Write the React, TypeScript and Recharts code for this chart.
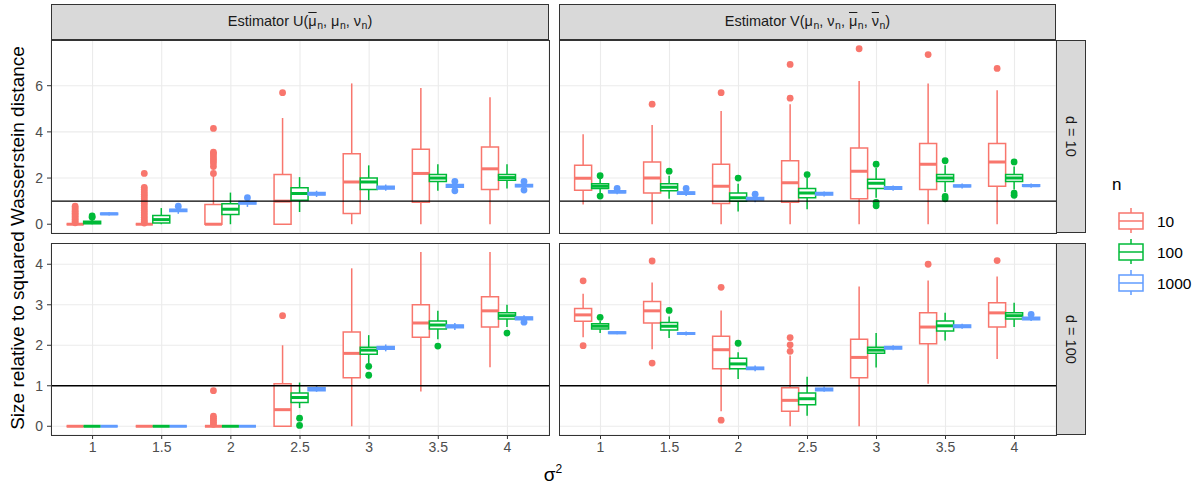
import React from "react";
import { BarChart, Bar, XAxis, YAxis, CartesianGrid, ReferenceLine } from "recharts";

const sigma2 = ["1", "1.5", "2", "2.5", "3", "3.5", "4"];
const nLevels = ["10", "100", "1000"];
const colors = ["#F8766D", "#00BA38", "#619CFF"];

// each entry: [lower whisker, q1, median, q3, upper whisker]
// Estimator U, d = 10
const uD10N10 = [[0, 0, 0, 0, 0], [0, 0, 0, 0, 0], [0, 0, 0, 0.85, 2.1], [0, 0, 1.0, 2.15, 4.6], [0, 0.46, 1.83, 3.05, 6.1], [0, 0.95, 2.2, 3.25, 5.9], [0, 1.5, 2.4, 3.35, 5.5]];
const uD10N100 = [[0, 0.02, 0.07, 0.13, 0.25], [0, 0.05, 0.2, 0.38, 0.7], [0, 0.42, 0.65, 0.89, 1.37], [0.53, 1.04, 1.33, 1.58, 2.04], [1.04, 1.5, 1.83, 2.0, 2.55], [1.45, 1.85, 2.0, 2.15, 2.6], [1.55, 1.9, 2.02, 2.15, 2.6]];
const uD10N1000 = [[0.38, 0.42, 0.45, 0.48, 0.52], [0.45, 0.55, 0.6, 0.65, 0.72], [0.75, 0.88, 0.93, 0.98, 1.08], [1.18, 1.27, 1.32, 1.37, 1.45], [1.45, 1.53, 1.58, 1.64, 1.72], [1.5, 1.6, 1.66, 1.72, 1.8], [1.52, 1.62, 1.67, 1.72, 1.8]];
const uD10N10Out = [[0.06, 0.13, 0.2, 0.27, 0.34, 0.41, 0.48, 0.55, 0.62, 0.7, 0.78], [0.05, 0.12, 0.2, 0.3, 0.4, 0.5, 0.6, 0.7, 0.8, 0.9, 1.0, 1.1, 1.2, 1.3, 1.4, 1.5, 1.6, 2.2], [2.2, 2.5, 2.65, 2.75, 2.85, 2.95, 3.05, 3.12, 4.15], [5.7], [], [], []];
const uD10N100Out = [[0.3, 0.36], [], [], [], [], [], []];
const uD10N1000Out = [[], [0.78], [1.15], [], [], [1.85, 1.45], [1.85, 1.48]];

// Estimator V, d = 10
const vD10N10 = [[0.85, 1.47, 1.99, 2.55, 3.9], [0, 1.35, 2.0, 2.7, 4.3], [0, 0.9, 1.65, 2.6, 4.9], [0, 0.95, 1.8, 2.75, 5.2], [0, 1.1, 2.3, 3.3, 6.2], [0, 1.5, 2.6, 3.5, 6.1], [0, 1.65, 2.7, 3.5, 5.8]];
const vD10N100 = [[1.3, 1.55, 1.65, 1.75, 2.0], [1.1, 1.45, 1.6, 1.75, 2.1], [0.55, 1.0, 1.15, 1.35, 1.75], [0.65, 1.15, 1.35, 1.55, 2.0], [1.15, 1.55, 1.78, 1.95, 2.45], [1.4, 1.85, 2.0, 2.15, 2.55], [1.5, 1.85, 2.0, 2.15, 2.5]];
const vD10N1000 = [[1.3, 1.36, 1.4, 1.45, 1.5], [1.22, 1.3, 1.35, 1.4, 1.48], [0.95, 1.05, 1.1, 1.16, 1.25], [1.2, 1.27, 1.32, 1.37, 1.42], [1.45, 1.52, 1.57, 1.62, 1.68], [1.55, 1.62, 1.66, 1.7, 1.76], [1.58, 1.64, 1.67, 1.71, 1.76]];
const vD10N10Out = [[], [5.2], [5.7], [5.46, 6.92], [7.6], [7.35], [6.75]];
const vD10N100Out = [[2.1, 1.22], [2.3], [2.0], [2.15], [2.6, 0.95, 0.8], [2.75, 1.2, 1.1], [2.7, 1.35, 1.25]];
const vD10N1000Out = [[1.55], [1.55], [1.3], [], [], [], []];

// Estimator U, d = 100
const uD100N10 = [[0, 0, 0, 0, 0], [0, 0, 0, 0, 0], [0, 0, 0, 0, 0], [0, 0, 0.41, 1.05, 2.0], [0, 1.2, 1.8, 2.33, 3.9], [0.86, 2.2, 2.55, 3.0, 4.3], [1.46, 2.45, 2.85, 3.2, 4.3]];
const uD100N100 = [[0, 0, 0, 0, 0], [0, 0, 0, 0, 0], [0, 0, 0, 0, 0], [0.45, 0.59, 0.71, 0.82, 1.08], [1.55, 1.78, 1.88, 1.95, 2.25], [2.15, 2.4, 2.5, 2.6, 2.85], [2.45, 2.65, 2.73, 2.8, 3.0]];
const uD100N1000 = [[0, 0, 0, 0, 0], [0, 0, 0, 0, 0], [0, 0, 0, 0, 0], [0.85, 0.88, 0.92, 0.95, 1.0], [1.85, 1.9, 1.93, 1.97, 2.02], [2.38, 2.43, 2.47, 2.5, 2.55], [2.6, 2.63, 2.67, 2.7, 2.74]];
const uD100N10Out = [[], [], [0.05, 0.1, 0.15, 0.2, 0.25, 0.88], [2.73], [], [], []];
const uD100N100Out = [[], [], [], [0.2, 0.02], [1.48, 1.26], [1.98], [2.3]];
const uD100N1000Out = [[], [], [], [], [], [], [2.57]];

// Estimator V, d = 100
const vD100N10 = [[2.2, 2.59, 2.75, 2.91, 3.27], [1.9, 2.55, 2.85, 3.08, 3.55], [0.37, 1.42, 1.89, 2.22, 2.86], [0, 0.37, 0.64, 0.95, 1.75], [0, 1.2, 1.7, 2.15, 3.45], [1.05, 2.04, 2.45, 2.8, 3.6], [1.66, 2.45, 2.8, 3.05, 3.7]];
const vD100N100 = [[2.3, 2.4, 2.47, 2.53, 2.6], [2.18, 2.38, 2.47, 2.56, 2.71], [1.17, 1.42, 1.54, 1.68, 1.83], [0.26, 0.53, 0.68, 0.82, 1.22], [1.45, 1.8, 1.88, 1.95, 2.3], [2.12, 2.35, 2.48, 2.6, 2.8], [2.45, 2.65, 2.73, 2.8, 3.05]];
const vD100N1000 = [[2.27, 2.29, 2.31, 2.33, 2.35], [2.24, 2.27, 2.29, 2.31, 2.34], [1.36, 1.4, 1.43, 1.46, 1.5], [0.85, 0.88, 0.91, 0.94, 0.98], [1.88, 1.91, 1.94, 1.97, 2.0], [2.41, 2.44, 2.47, 2.5, 2.53], [2.6, 2.63, 2.66, 2.69, 2.72]];
const vD100N10Out = [[3.59, 1.99], [4.08, 1.56], [3.43, 0.15], [1.85, 2.01, 2.19], [], [4.0], [4.09]];
const vD100N100Out = [[2.69], [2.86], [2.05], [], [], [], []];
const vD100N1000Out = [[], [], [], [], [], [], [2.76]];

const domainD10: [number, number] = [-0.38, 7.98];
const domainD100: [number, number] = [-0.2155, 4.525];
const ticksD10 = [0, 2, 4, 6];
const ticksD100 = [0, 1, 2, 3, 4];

const font = '"Liberation Sans", Arial, sans-serif';

const buildRows = (stats: number[][][], outs: number[][][]) =>
  sigma2.map((s, i) => ({ s, stats: stats.map((a) => a[i]), outs: outs.map((a) => a[i]) }));

const boxShape = (k: number, domain: [number, number]) => (props: any) => {
  const { x, y, width, height, payload } = props;
  const [d0, d1] = domain;
  const py = (v: number) => y + ((d1 - v) / (d1 - d0)) * height;
  const [lo, q1, med, q3, hi] = payload.stats[k];
  const cx = x + width / 2;
  const c = colors[k];
  return (
    <g>
      <line x1={cx} x2={cx} y1={py(lo)} y2={py(hi)} stroke={c} strokeWidth={1.5} />
      <path d={`M${x},${py(q3)}H${x + width}V${py(q1)}H${x}Z`} fill="#fff" stroke={c} strokeWidth={1.5} />
      <line x1={x} x2={x + width} y1={py(med)} y2={py(med)} stroke={c} strokeWidth={3} />
      {payload.outs[k].map((v: number, j: number) => (
        <circle key={j} cx={cx} cy={py(v)} r={3.4} fill={c} />
      ))}
    </g>
  );
};

type PanelProps = {
  rows: any[];
  domain: [number, number];
  ticks: number[];
  showX: boolean;
  showY: boolean;
  left: number;
  top: number;
  plotW: number;
  plotH: number;
};

function Panel({ rows, domain, ticks, showX, showY, left, top, plotW, plotH }: PanelProps) {
  const yW = showY ? 51 : 0;
  const xH = showX ? 30 : 0;
  return (
    <>
      <div style={{ position: "absolute", left: left - yW, top }}>
        <BarChart
          width={plotW + yW}
          height={plotH + xH}
          data={rows}
          margin={{ top: 0, right: 0, bottom: 0, left: 0 }}
          barCategoryGap="12.5%"
          barGap={0}
        >
          <CartesianGrid stroke="#EBEBEB" strokeWidth={1.1} />
          <XAxis
            dataKey="s"
            hide={!showX}
            height={xH}
            padding={{ left: 7, right: 7 }}
            axisLine={false}
            tickLine={{ stroke: "#333333" }}
            tickSize={4}
            tickMargin={3}
            tick={{ fill: "#4D4D4D", fontSize: 14, fontFamily: font }}
          />
          <YAxis
            type="number"
            domain={domain}
            ticks={ticks}
            allowDataOverflow
            hide={!showY}
            width={yW}
            axisLine={false}
            tickLine={{ stroke: "#333333" }}
            tickSize={4}
            tickMargin={4}
            tick={{ fill: "#4D4D4D", fontSize: 14, fontFamily: font }}
          />
          {nLevels.map((n, k) => (
            <Bar
              key={n}
              dataKey={() => domain}
              isAnimationActive={false}
              shape={boxShape(k, domain)}
            />
          ))}
          <ReferenceLine y={1} stroke="#000" strokeWidth={1.3} />
        </BarChart>
      </div>
      <div
        style={{
          position: "absolute",
          left: left - 0.5,
          top: top - 0.5,
          width: plotW + 1,
          height: plotH + 1,
          border: "1.2px solid #333333",
          boxSizing: "border-box",
          pointerEvents: "none",
        }}
      />
    </>
  );
}

const Sub = ({ children }: { children: React.ReactNode }) => (
  <span style={{ fontSize: 10.5, verticalAlign: -3, marginLeft: 0.5 }}>{children}</span>
);
const Ov = ({ children }: { children: React.ReactNode }) => (
  <span style={{ textDecoration: "overline" }}>{children}</span>
);

const stripStyle: React.CSSProperties = {
  position: "absolute",
  background: "#D9D9D9",
  border: "1.2px solid #333333",
  boxSizing: "border-box",
  display: "flex",
  alignItems: "center",
  justifyContent: "center",
  color: "#1A1A1A",
  fontSize: 14.5,
};

export default function App() {
  const tl = buildRows([uD10N10, uD10N100, uD10N1000], [uD10N10Out, uD10N100Out, uD10N1000Out]);
  const tr = buildRows([vD10N10, vD10N100, vD10N1000], [vD10N10Out, vD10N100Out, vD10N1000Out]);
  const bl = buildRows([uD100N10, uD100N100, uD100N1000], [uD100N10Out, uD100N100Out, uD100N1000Out]);
  const br = buildRows([vD100N10, vD100N100, vD100N1000], [vD100N10Out, vD100N100Out, vD100N1000Out]);

  return (
    <div style={{ position: "absolute", left: 0, top: 0, width: 1202, height: 488, background: "#fff", fontFamily: font, overflow: "hidden" }}>
      <div style={{ ...stripStyle, left: 51, top: 4, width: 498, height: 36 }}>
        <span>
          Estimator U(<Ov>μ</Ov><Sub>n</Sub>, μ<Sub>n</Sub>, ν<Sub>n</Sub>)
        </span>
      </div>
      <div style={{ ...stripStyle, left: 559, top: 4, width: 497, height: 36 }}>
        <span>
          Estimator V(μ<Sub>n</Sub>, ν<Sub>n</Sub>, <Ov>μ</Ov><Sub>n</Sub>, <Ov>ν</Ov><Sub>n</Sub>)
        </span>
      </div>
      <div style={{ ...stripStyle, left: 1056, top: 40, width: 30, height: 193, writingMode: "vertical-rl" }}>
        d = 10
      </div>
      <div style={{ ...stripStyle, left: 1056, top: 243, width: 30, height: 192, writingMode: "vertical-rl" }}>
        d = 100
      </div>

      <Panel rows={tl} domain={domainD10} ticks={ticksD10} showX={false} showY left={51} top={40} plotW={498} plotH={193} />
      <Panel rows={tr} domain={domainD10} ticks={ticksD10} showX={false} showY={false} left={559} top={40} plotW={497} plotH={193} />
      <Panel rows={bl} domain={domainD100} ticks={ticksD100} showX showY left={51} top={243} plotW={498} plotH={192} />
      <Panel rows={br} domain={domainD100} ticks={ticksD100} showX showY={false} left={559} top={243} plotW={497} plotH={192} />

      <div
        style={{
          position: "absolute",
          left: 18,
          top: 238,
          transform: "translate(-50%, -50%) rotate(-90deg)",
          whiteSpace: "nowrap",
          fontSize: 19,
          color: "#000",
        }}
      >
        Size relative to squared Wasserstein distance
      </div>
      <div style={{ position: "absolute", left: 553, top: 474, transform: "translate(-50%, -50%)", fontSize: 19, color: "#000" }}>
        σ<sup style={{ fontSize: 12 }}>2</sup>
      </div>

      <div style={{ position: "absolute", left: 1112, top: 175, fontSize: 17, color: "#000" }}>n</div>
      <svg style={{ position: "absolute", left: 1112, top: 200 }} width={90} height={100}>
        {nLevels.map((n, k) => {
          const cy = 21 + k * 31;
          return (
            <g key={n}>
              <line x1={19} x2={19} y1={cy - 13} y2={cy + 12} stroke={colors[k]} strokeWidth={1.5} />
              <rect x={7} y={cy - 8} width={24} height={16} fill="#fff" stroke={colors[k]} strokeWidth={1.5} />
              <line x1={7} x2={31} y1={cy} y2={cy} stroke={colors[k]} strokeWidth={1.5} />
              <text x={45} y={cy} dominantBaseline="central" fontSize={15.5} fill="#000" fontFamily={font}>
                {n}
              </text>
            </g>
          );
        })}
      </svg>
    </div>
  );
}
